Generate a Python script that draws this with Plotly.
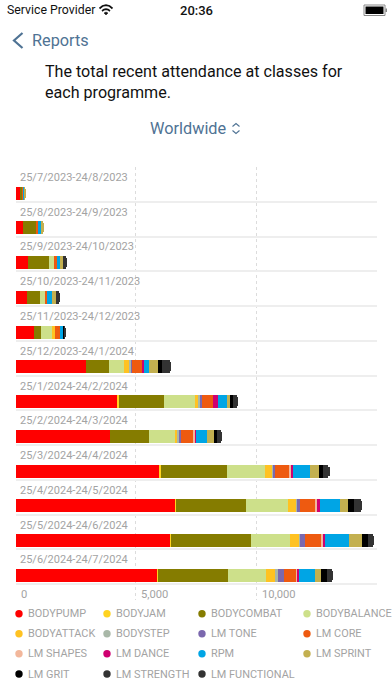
import plotly.graph_objects as go

periods = ["25/7/2023-24/8/2023", "25/8/2023-24/9/2023", "25/9/2023-24/10/2023",
           "25/10/2023-24/11/2023", "25/11/2023-24/12/2023", "25/12/2023-24/1/2024",
           "25/1/2024-24/2/2024", "25/2/2024-24/3/2024", "25/3/2024-24/4/2024",
           "25/4/2024-24/5/2024", "25/5/2024-24/6/2024", "25/6/2024-24/7/2024"]
programmes = ["BODYPUMP", "BODYJAM", "BODYCOMBAT", "BODYBALANCE", "BODYATTACK", "BODYSTEP",
              "LM TONE", "LM CORE", "LM SHAPES", "LM DANCE", "RPM", "LM SPRINT",
              "LM GRIT", "LM STRENGTH", "LM FUNCTIONAL"]
colors = ["#ff0000", "#ffd320", "#857c00", "#cde08a", "#ffc222", "#a9b8a8",
          "#7b68ae", "#ee5a10", "#f2b79b", "#cf0070", "#00a5e5", "#c3b050",
          "#000000", "#333333", "#333333"]

BODYPUMP = [152, 290, 512, 470, 760, 2890, 4235, 3890, 5950, 6620, 6400, 5880]
BODYJAM = [0, 0, 0, 0, 0, 0, 55, 0, 55, 15, 55, 28]
BODYCOMBAT = [138, 540, 872, 512, 290, 980, 1840, 1620, 2770, 2930, 3300, 2920]
BODYBALANCE = [0, 0, 180, 220, 457, 610, 1287, 1080, 1590, 1740, 1630, 1560]
BODYATTACK = [0, 0, 0, 0, 97, 195, 138, 138, 275, 345, 415, 375]
BODYSTEP = [0, 0, 0, 0, 0, 138, 125, 55, 70, 20, 15, 110]
LM_TONE = [0, 0, 0, 0, 0, 15, 40, 55, 40, 110, 180, 262]
LM_CORE = [40, 97, 125, 97, 207, 430, 470, 553, 620, 650, 705, 485]
LM_SHAPES = [0, 0, 0, 0, 0, 15, 10, 55, 70, 97, 70, 97]
LM_DANCE = [0, 0, 0, 0, 0, 55, 180, 40, 85, 97, 83, 40]
RPM = [40, 97, 180, 180, 166, 207, 374, 470, 705, 830, 995, 680]
LM_SPRINT = [55, 125, 70, 166, 0, 360, 138, 278, 345, 360, 525, 250]
LM_GRIT = [0, 0, 0, 0, 30, 180, 110, 97, 180, 220, 235, 250]
LM_STRENGTH = [0, 0, 180, 180, 80, 345, 235, 235, 260, 360, 250, 235]
LM_FUNCTIONAL = [0, 0, 0, 0, 0, 0, 0, 0, 10, 0, 0, 0]
series = [BODYPUMP, BODYJAM, BODYCOMBAT, BODYBALANCE, BODYATTACK, BODYSTEP, LM_TONE, LM_CORE,
          LM_SHAPES, LM_DANCE, RPM, LM_SPRINT, LM_GRIT, LM_STRENGTH, LM_FUNCTIONAL]
x_ticks = [0, 5000, 10000]
x_grid = [0, 5000, 10000, 15000]

W, H = 392, 696
FONT = "Roboto"
ACC = "#4f7394"
GRAY = "#a3a3a3"
row_px = 34.75
rows = list(range(len(periods)))
extra = 16 / row_px


def px(x):
    return x / W


def py(y):
    return 1 - y / H


fig = go.Figure()
for name, vals, col in zip(programmes, series, colors):
    fig.add_bar(y=rows, x=vals, name=name, orientation="h", marker=dict(color=col, line_width=0),
                offset=0.068, width=0.374, showlegend=False)

annotations = []


def text(x, y, s, size, color="#111111", anchor="left", family=FONT, weight=400):
    annotations.append(dict(x=px(x), y=py(y), xref="paper", yref="paper", text=s, showarrow=False,
                            xanchor=anchor, yanchor="middle", align="left",
                            font=dict(size=size, color=color, family=family, weight=weight),
                            xshift=0, yshift=0, borderpad=0, borderwidth=0))


# header
text(7, 10.5, "Service Provider", 12.3)
text(196, 10.5, "20:36", 13, anchor="center", weight=500)
text(32, 40.5, "Reports", 16.3, color=ACC)
text(45, 71, "The total recent attendance at classes for", 16.1)
text(45, 92, "each programme.", 16.1)
text(150, 128.5, "Worldwide", 16.3, color=ACC)

# row labels
for i, p in zip(rows, periods):
    annotations.append(dict(x=0, y=i - 0.5, xref="x", yref="y", text=p, showarrow=False, xanchor="left",
                            yanchor="middle", xshift=2.5, yshift=-10.5,
                            font=dict(size=11, color=GRAY, family=FONT)))
# x tick labels
for t in x_ticks:
    annotations.append(dict(x=t, y=11.5 + extra, xref="x", yref="y", text=f"{t:,}", showarrow=False,
                            xanchor="left", yanchor="middle", xshift=3.5, yshift=5.5,
                            font=dict(size=11.2, color=GRAY, family=FONT)))

shapes = []
# legend
col_x = [19, 107, 202, 307]
row_y = [613.7, 633.7, 653.7, 674]
for k, (name, col) in enumerate(zip(programmes, colors)):
    cx, cy = col_x[k % 4], row_y[k // 4]
    shapes.append(dict(type="circle", xref="paper", yref="paper", x0=px(cx - 3.7), x1=px(cx + 3.7),
                       y0=py(cy + 3.7), y1=py(cy - 3.7), fillcolor=col, line_width=0))
    text(cx + 9, cy, name, 10.9, color=GRAY)


def path(points, color, width=1.5, fill=None, close=False):
    d = "M" + " L".join(f"{px(a):.5f},{py(b):.5f}" for a, b in points) + (" Z" if close else "")
    shapes.append(dict(type="path", xref="paper", yref="paper", path=d,
                       line=dict(color=color, width=width), fillcolor=fill))


# back chevron
path([(22.5, 33), (14, 40.5), (22.5, 48)], ACC, 2.2)
# selector chevrons
path([(232.5, 126.5), (236, 123.5), (239.5, 126.5)], ACC, 1.1)
path([(232.5, 130.5), (236, 133.5), (239.5, 130.5)], ACC, 1.1)
# wifi
path([(99.5, 8.5), (102.5, 6), (106, 5.2), (109.5, 6), (112.5, 8.5)], "#111111", 1.7)
path([(102, 11), (104, 9.6), (106, 9.2), (108, 9.6), (110, 11)], "#111111", 1.7)
path([(104, 13), (106, 12), (108, 13), (106, 15)], "#111111", 0.5, "#111111", True)
# battery
shapes.append(dict(type="rect", xref="paper", yref="paper", x0=px(364), x1=px(385), y0=py(15.5), y1=py(5),
                   line=dict(color="#888888", width=1), fillcolor="#ffffff"))
shapes.append(dict(type="rect", xref="paper", yref="paper", x0=px(365.5), x1=px(383.5), y0=py(14), y1=py(6.5),
                   line_width=0, fillcolor="#000000"))
shapes.append(dict(type="rect", xref="paper", yref="paper", x0=px(385.5), x1=px(387), y0=py(12), y1=py(8.5),
                   line_width=0, fillcolor="#888888"))

fig.update_layout(
    width=W, height=H, margin=dict(l=0, r=0, t=0, b=0), autosize=False,
    paper_bgcolor="white", plot_bgcolor="white", barmode="stack", barcornerradius=2.5,
    bargap=0, showlegend=False, annotations=annotations, shapes=shapes,
    font=dict(family=FONT),
    xaxis=dict(domain=[px(15.5), px(376.5)], range=[0, 15000], tickvals=x_grid, showticklabels=False,
               showgrid=True, gridcolor="#dcdcdc", griddash="dot", gridwidth=1, zeroline=False,
               showline=False, ticks="", layer="below traces"),
    yaxis=dict(domain=[py(600), py(167)], range=[11.5 + extra, -0.5],
               tickvals=[r - 0.5 for r in rows] + [11.5], showticklabels=False,
               showgrid=True, gridcolor="#eeeeee", gridwidth=1.5, zeroline=False,
               showline=False, ticks="", layer="below traces"),
)
fig.write_html("out.html", config={"displayModeBar": False},
               post_script="document.body.style.margin='0';document.documentElement.style.overflow='hidden';")
